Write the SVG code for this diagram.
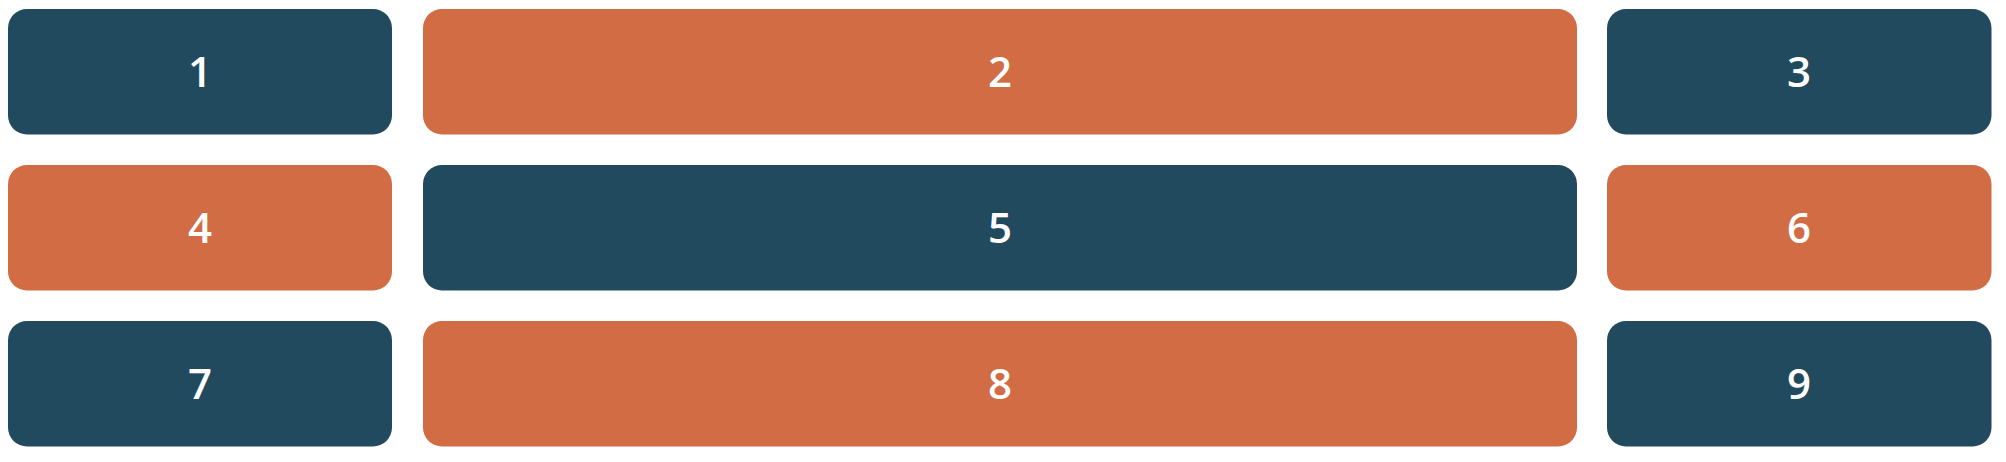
<svg xmlns="http://www.w3.org/2000/svg" width="2006" height="462" viewBox="0 0 2006 462">
<style>
.d{fill:#224A5E}
.o{fill:#D16C44}
text{font-family:"Open Sans","Noto Sans","DejaVu Sans",sans-serif;font-weight:600;font-size:42px;fill:#ffffff;text-anchor:middle}
</style>
<rect width="2006" height="462" fill="#ffffff"/>
<g id="node1"><rect class="d" x="8" y="9" width="384" height="125.5" rx="19"/><text x="200" y="86.5">1</text></g>
<g id="node2"><rect class="o" x="423" y="9" width="1154" height="125.5" rx="19"/><text x="1000" y="86.5">2</text></g>
<g id="node3"><rect class="d" x="1607" y="9" width="384.5" height="125.5" rx="19"/><text x="1799" y="86.5">3</text></g>
<g id="node4"><rect class="o" x="8" y="165" width="384" height="125.5" rx="19"/><text x="200" y="242.5">4</text></g>
<g id="node5"><rect class="d" x="423" y="165" width="1154" height="125.5" rx="19"/><text x="1000" y="242.5">5</text></g>
<g id="node6"><rect class="o" x="1607" y="165" width="384.5" height="125.5" rx="19"/><text x="1799" y="242.5">6</text></g>
<g id="node7"><rect class="d" x="8" y="321" width="384" height="125.5" rx="19"/><text x="200" y="398.5">7</text></g>
<g id="node8"><rect class="o" x="423" y="321" width="1154" height="125.5" rx="19"/><text x="1000" y="398.5">8</text></g>
<g id="node9"><rect class="d" x="1607" y="321" width="384.5" height="125.5" rx="19"/><text x="1799" y="398.5">9</text></g>
<g id="connectors"></g>
</svg>
